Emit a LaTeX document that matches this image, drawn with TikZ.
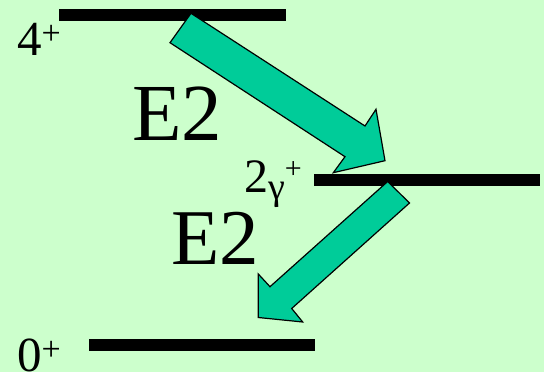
\documentclass[tikz,border=0pt]{standalone}
\usepackage{fontspec}
\setmainfont{Liberation Serif}
\definecolor{bggreen}{HTML}{CCFFCC}
\definecolor{arrowgreen}{HTML}{00CC99}
\begin{document}
\begin{tikzpicture}[
    x=1pt, y=-1pt,
    level/.style={line width=12pt},
    trans/.style={fill=arrowgreen, draw=black, line width=1.2pt, line join=miter},
    spin/.style={anchor=base west, inner sep=0pt, font=\fontsize{49}{49}\selectfont},
    mult/.style={anchor=base west, inner sep=0pt, font=\fontsize{81}{81}\selectfont}
]
\useasboundingbox (0,0) rectangle (544,372);
\fill[bggreen] (0,0) rectangle (544,372);

% levels
\coordinate (l4a) at (59,15);   \coordinate (l4b) at (286,15);
\coordinate (l2a) at (314,180); \coordinate (l2b) at (540,180);
\coordinate (l0a) at (89,345);  \coordinate (l0b) at (315,345);
\draw[level] (l4a) -- (l4b);
\draw[level] (l2a) -- (l2b);
\draw[level] (l0a) -- (l0b);

% transitions
\draw[trans] (191,13.3) -- (170,42.7) -- (345,156.7) -- (333.3,172.7)
    -- (385,160.7) -- (376,109.3) -- (365,126) -- cycle;
\draw[trans] (387.7,181.5) -- (409.5,203) -- (291.7,308.5) -- (302.7,322)
    -- (258.3,317.5) -- (258.3,274) -- (270,286.7) -- cycle;

% labels
\node[spin] (s4) at (17,56) {4\raisebox{12pt}{\fontsize{34}{34}\selectfont+}};
\node[spin] (s0) at (17,371) {0\raisebox{11pt}{\fontsize{34}{34}\selectfont+}};
\node[spin, font=\fontsize{48}{48}\selectfont] (s2) at (244,192)
    {2\raisebox{-7.5pt}{\fontsize{38}{38}\selectfont γ}\raisebox{14pt}{\fontsize{30}{30}\selectfont+}};
\node[mult] (e2a) at (132,140) {E2};
\node[mult, font=\fontsize{79}{79}\selectfont] (e2b) at (171,264) {E2};
\end{tikzpicture}
\end{document}
